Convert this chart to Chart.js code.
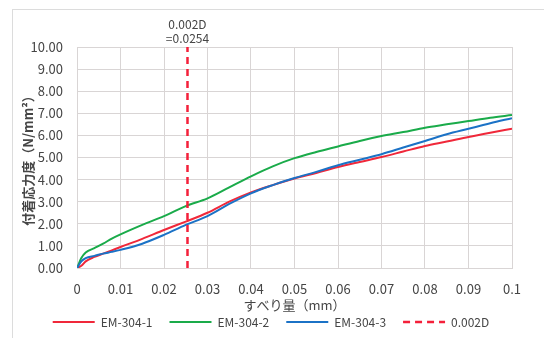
<!DOCTYPE html>
<html>
<head>
<meta charset="utf-8">
<script src="https://cdn.jsdelivr.net/npm/chart.js@4"></script>
<style>
  html, body { margin: 0; padding: 0; background: #fff; }
  #wrap { width: 544px; height: 338px; }
</style>
</head>
<body>
<div id="wrap"><canvas id="c" width="544" height="338"></canvas></div>
<script>
// すべり量 (mm)
const slip = [0, 0.001, 0.002, 0.004, 0.006, 0.008, 0.01, 0.015, 0.02, 0.025, 0.03, 0.035, 0.04,
  0.045, 0.05, 0.055, 0.06, 0.065, 0.07, 0.075, 0.08, 0.085, 0.09, 0.095, 0.1];
// 付着応力度 (N/mm2)
const em1 = [0, 0.1, 0.3, 0.5, 0.65, 0.8, 0.95, 1.32, 1.72, 2.1, 2.5, 3.0, 3.42,
  3.75, 4.05, 4.3, 4.57, 4.8, 5.02, 5.27, 5.52, 5.72, 5.93, 6.12, 6.3];
const em2 = [0, 0.45, 0.7, 0.9, 1.1, 1.33, 1.52, 1.95, 2.35, 2.8, 3.15, 3.65, 4.15,
  4.6, 4.97, 5.25, 5.5, 5.75, 5.97, 6.15, 6.35, 6.5, 6.65, 6.8, 6.92];
const em3 = [0, 0.3, 0.45, 0.55, 0.65, 0.73, 0.82, 1.1, 1.5, 1.95, 2.35, 2.9, 3.38,
  3.75, 4.07, 4.35, 4.65, 4.9, 5.15, 5.45, 5.75, 6.05, 6.3, 6.55, 6.78];
const seriesNames = ['EM-304-1', 'EM-304-2', 'EM-304-3', '0.002D'];
// 0.002D 線
const dX = [0.0254, 0.0254];
const dY = [0, 10];
const dNote = ['0.002D', '=0.0254'];

const xTickLabels = ['0', '0.01', '0.02', '0.03', '0.04', '0.05', '0.06', '0.07', '0.08', '0.09', '0.1'];
const yTickLabels = ['0.00', '1.00', '2.00', '3.00', '4.00', '5.00', '6.00', '7.00', '8.00', '9.00', '10.00'];

const FONT = "'Noto Sans CJK JP', 'Noto Sans', sans-serif";
const TXT = '#454545';
const GRID = '#d9d5d5';

const pts = (xs, ys) => xs.map((x, i) => ({ x: x, y: ys[i] }));

// 枠と注記
const deco = {
  id: 'deco',
  beforeDraw(chart) {
    const ctx = chart.ctx;
    ctx.save();
    ctx.fillStyle = '#fff';
    ctx.fillRect(0, 0, chart.width, chart.height);
    ctx.strokeStyle = '#dcdcdc';
    ctx.lineWidth = 1;
    ctx.strokeRect(12.5, 9.5, 700, 500);
    ctx.restore();
  },
  afterDraw(chart) {
    const ctx = chart.ctx;
    const px = chart.scales.x.getPixelForValue(dX[0]);
    ctx.save();
    ctx.fillStyle = TXT;
    ctx.font = '12px ' + FONT;
    ctx.textAlign = 'center';
    ctx.textBaseline = 'middle';
    ctx.fillText(dNote[0], px, 24);
    ctx.fillText(dNote[1], px, 38);
    ctx.restore();
  }
};

const line = (label, data, color, order) => ({
  label: label,
  data: data,
  borderColor: color,
  backgroundColor: color,
  borderWidth: 2,
  pointRadius: 0,
  cubicInterpolationMode: 'monotone',
  order: order
});

new Chart(document.getElementById('c'), {
  type: 'line',
  data: {
    datasets: [
      line(seriesNames[0], pts(slip, em1), '#f0283a', 3),
      line(seriesNames[1], pts(slip, em2), '#1aab4a', 2),
      line(seriesNames[2], pts(slip, em3), '#1b72c6', 1),
      {
        label: seriesNames[3],
        data: pts(dX, dY),
        borderColor: '#f4203a',
        backgroundColor: '#f4203a',
        borderWidth: 2.5,
        borderDash: [7, 5],
        pointRadius: 0,
        order: 0
      }
    ]
  },
  options: {
    responsive: false,
    animation: false,
    layout: { padding: { left: 30, right: 32, top: 47, bottom: 0 } },
    plugins: {
      tooltip: { enabled: false },
      legend: {
        position: 'bottom',
        labels: {
          usePointStyle: true,
          pointStyle: 'line',
          pointStyleWidth: 42,
          padding: 17,
          color: TXT,
          font: { family: FONT, size: 12 },
          sort: (a, b) => a.datasetIndex - b.datasetIndex,
          generateLabels: (chart) => {
            const items = Chart.defaults.plugins.legend.labels.generateLabels(chart);
            items.forEach(it => {
              const ds = chart.data.datasets[it.datasetIndex];
              it.lineDash = ds.borderDash || [];
              it.lineWidth = ds.borderWidth;
              it.strokeStyle = ds.borderColor;
            });
            return items;
          }
        }
      }
    },
    scales: {
      x: {
        type: 'linear',
        min: 0,
        max: 0.1,
        afterFit: (s) => { s.height = 31; },
        ticks: {
          stepSize: 0.01,
          padding: 13,
          maxRotation: 0,
          color: TXT,
          font: { family: FONT, size: 13 },
          callback: (v, i) => xTickLabels[i]
        },
        grid: { color: GRID, drawTicks: false },
        border: { color: GRID },
        title: {
          display: true,
          text: 'すべり量（mm）',
          color: TXT,
          font: { family: FONT, size: 13 },
          padding: { top: 0, bottom: -14 }
        }
      },
      y: {
        min: 0,
        max: 10,
        afterFit: (s) => { s.width = 47; },
        ticks: {
          stepSize: 1,
          padding: 14,
          color: TXT,
          font: { family: FONT, size: 13 },
          callback: (v, i) => yTickLabels[i]
        },
        grid: { color: GRID, drawTicks: false },
        border: { color: GRID },
        title: {
          display: true,
          text: '付着応力度（N/mm²）',
          color: TXT,
          font: { family: FONT, size: 13, weight: 'bold' },
          padding: { top: -10, bottom: 0 }
        }
      }
    }
  },
  plugins: [deco]
});
</script>
</body>
</html>
